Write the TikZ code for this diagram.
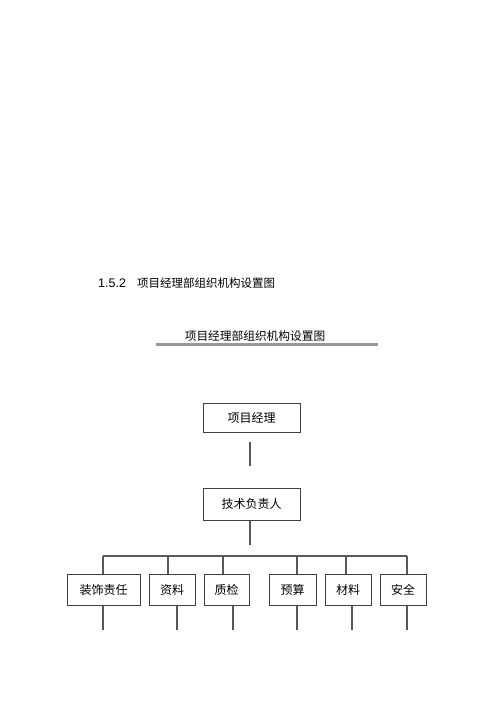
\documentclass[tikz,border=0pt]{standalone}
\usepackage{fontspec}
\setmainfont{Liberation Sans}
\newfontfamily\cjk{Noto Sans CJK SC}
\begin{document}
\begin{tikzpicture}[x=1pt,y=-1pt,
  box/.style={draw=black!75, line width=1pt, fill=white, inner sep=0pt, font=\cjk\fontsize{12}{14}\selectfont},
  conn/.style={draw=black!65, line width=1.1pt},
  txt/.style={inner sep=0pt, anchor=base west}]
\useasboundingbox[fill=white] (0,0) rectangle (500,707);
% heading
\node[txt] (h1) at (98,287) {\fontsize{12.5}{14}\selectfont 1.5.2};
\node[txt] (h2) at (137,287) {\cjk\fontsize{11.5}{13}\selectfont 项目经理部组织机构设置图};
% title
\node[inner sep=0pt, font=\cjk\fontsize{11.7}{14}\selectfont] (title) at (255,336) {项目经理部组织机构设置图};
\draw[black!40, line width=3pt] (156,344) -- (378,344);
% top boxes
\node[box, minimum width=97pt, minimum height=29pt] (pm) at (251.5,417.5) {项目经理};
\node[box, minimum width=97pt, minimum height=32pt] (tech) at (251.5,504) {技术负责人};
\coordinate (l1a) at (250,442);
\coordinate (l1b) at (250,466);
\draw[conn] (l1a) -- (l1b);
\coordinate (l2b) at (250,545);
\draw[conn] (tech.south -| l2b) -- (l2b);
% bottom boxes
\node[box, minimum width=73pt, minimum height=31pt] (b1) at (103.5,589.5) {装饰责任};
\node[box, minimum width=46pt, minimum height=31pt] (b2) at (172,589.5) {资料};
\node[box, minimum width=45pt, minimum height=31pt] (b3) at (226.5,589.5) {质检};
\node[box, minimum width=47pt, minimum height=31pt] (b4) at (292.5,589.5) {预算};
\node[box, minimum width=46pt, minimum height=31pt] (b5) at (348,589.5) {材料};
\node[box, minimum width=46pt, minimum height=31pt] (b6) at (403,589.5) {安全};
% bus
\coordinate (t1) at (103,556);
\coordinate (t2) at (168,556);
\coordinate (t3) at (223,556);
\coordinate (t4) at (297,556);
\coordinate (t5) at (346,556);
\coordinate (t6) at (407,556);
\draw[conn] (t1) -- (t6);
\foreach \i in {1,...,6} {\draw[conn] (t\i) -- (t\i |- b\i.north);}
% drops
\coordinate (d1) at (103,630);
\coordinate (d2) at (177,630);
\coordinate (d3) at (233,630);
\coordinate (d4) at (297,630);
\coordinate (d5) at (352,630);
\coordinate (d6) at (407,630);
\foreach \i in {1,...,6} {\draw[conn] (b\i.south -| d\i) -- (d\i);}
\end{tikzpicture}
\end{document}
